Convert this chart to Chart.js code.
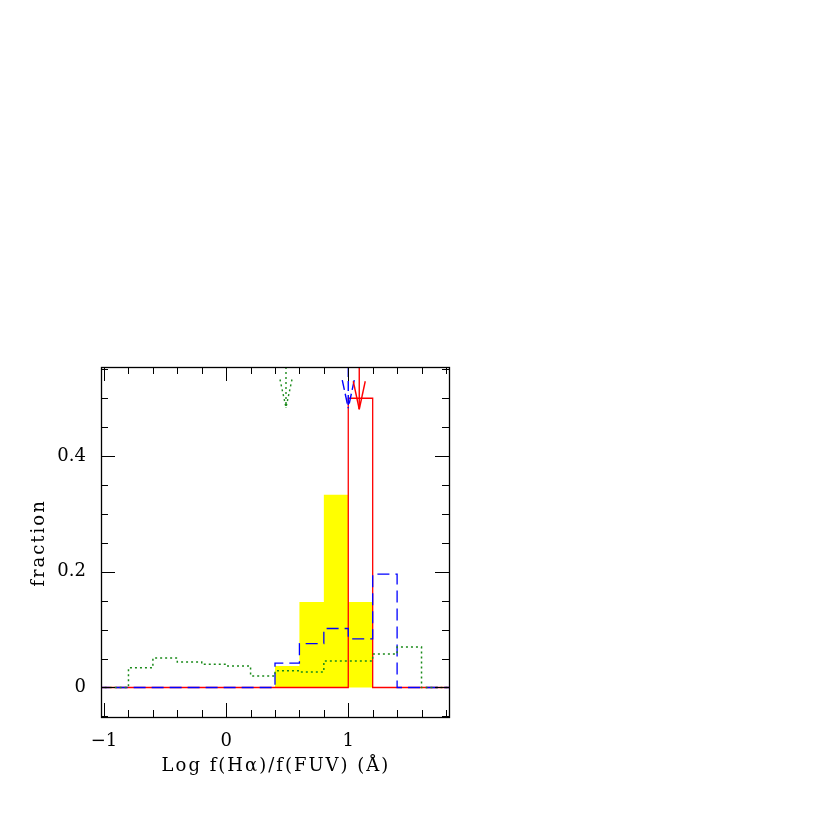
<!DOCTYPE html>
<html>
<head>
<meta charset="utf-8">
<script src="https://cdn.jsdelivr.net/npm/chart.js@4"></script>
<style>
  html, body { margin: 0; padding: 0; background: #fff; }
  #wrap { width: 817px; height: 817px; }
</style>
</head>
<body>
<div id="wrap"><canvas id="myChart"></canvas></div>
<script>
// bin left edges (width 0.2)
let binLeft = [-1.0, -0.8, -0.6, -0.4, -0.2, 0.0, 0.2, 0.4, 0.6, 0.8, 1.0, 1.2, 1.4, 1.6];
let yellowVals = [0, 0, 0, 0, 0, 0, 0, 0.037, 0.148, 0.333, 0.148, 0, 0, 0];
let redVals    = [0, 0, 0, 0, 0, 0, 0, 0, 0, 0, 0.5, 0, 0, 0];
let blueVals   = [0, 0, 0, 0, 0, 0, 0, 0.042, 0.076, 0.102, 0.084, 0.196, 0, 0];
let greenVals  = [0, 0.034, 0.051, 0.044, 0.040, 0.037, 0.020, 0.029, 0.027, 0.046, 0.046, 0.058, 0.070, 0];

// arrows (mean values)
let arrowX     = [0.49, 1.0, 1.09];
let arrowTip   = [0.484, 0.483, 0.481];
let arrowColor = ['#1a8a1a', '#0000ff', '#ff0000'];
let arrowDash  = [[2, 3], [10, 4], []];

let xTicks = [-1, 0, 1];
let yTicks = [0, 0.2, 0.4];

let xTitle = 'Log f(H\u03b1)/f(FUV) (\u00c5)';
let yTitle = 'fraction';

function histo(vals) {
    let pts = [{x: -1.2, y: 0}];
    for (let i = 0; i < binLeft.length; i++) {
        pts.push({x: binLeft[i], y: vals[i]});
    }
    pts.push({x: 1.8, y: 0});
    pts.push({x: 2.0, y: 0});
    return pts;
}

// marco y ticks por dentro, en los 4 lados
const framePlugin = {
    id: 'frame',
    afterDatasetsDraw(chart) {
        const ctx = chart.ctx;
        const a = chart.chartArea;
        const xs = chart.scales.x, ys = chart.scales.y;
        ctx.save();

        // flechas
        for (let i = 0; i < arrowX.length; i++) {
            let px = xs.getPixelForValue(arrowX[i]);
            let py = ys.getPixelForValue(arrowTip[i]);
            ctx.strokeStyle = arrowColor[i];
            ctx.lineWidth = 1.4;
            ctx.setLineDash(arrowDash[i]);
            ctx.beginPath();
            ctx.moveTo(px, a.top);
            ctx.lineTo(px, py);
            ctx.stroke();
            ctx.beginPath();
            ctx.moveTo(px - 6, py - 28);
            ctx.lineTo(px, py);
            ctx.stroke();
            ctx.beginPath();
            ctx.moveTo(px + 6, py - 28);
            ctx.lineTo(px, py);
            ctx.stroke();
        }
        ctx.setLineDash([]);

        ctx.strokeStyle = '#000';
        ctx.lineWidth = 1.3;
        ctx.strokeRect(a.left + 0.5, a.top + 0.5, a.right - a.left, a.bottom - a.top);

        ctx.lineWidth = 1;
        ctx.beginPath();
        for (let k = -5; k <= 9; k++) {
            let v = k * 0.2;
            if (v < xs.min || v > xs.max) continue;
            let len = (k % 5 === 0) ? 14 : 7;
            let p = Math.round(xs.getPixelForValue(v)) + 0.5;
            ctx.moveTo(p, a.bottom); ctx.lineTo(p, a.bottom - len);
            ctx.moveTo(p, a.top); ctx.lineTo(p, a.top + len);
        }
        for (let k = -1; k <= 11; k++) {
            let v = k * 0.05;
            if (v < ys.min || v > ys.max) continue;
            let len = (k % 4 === 0) ? 14 : 7;
            let p = Math.round(ys.getPixelForValue(v)) + 0.5;
            ctx.moveTo(a.left, p); ctx.lineTo(a.left + len, p);
            ctx.moveTo(a.right, p); ctx.lineTo(a.right - len, p);
        }
        ctx.stroke();

        // titulos de ejes (con algo de espaciado entre letras)
        ctx.fillStyle = '#000';
        ctx.font = '18px "DejaVu Serif"';
        ctx.letterSpacing = '2px';
        ctx.textAlign = 'center';
        ctx.textBaseline = 'alphabetic';
        ctx.fillText(xTitle, (a.left + a.right) / 2 + 1, 771);
        ctx.translate(44, (a.top + a.bottom) / 2 + 1);
        ctx.rotate(-Math.PI / 2);
        ctx.fillText(yTitle, 0, 0);
        ctx.restore();
    }
};

const font = {family: 'DejaVu Serif', size: 18};

const ctx = document.getElementById('myChart').getContext('2d');
const myChart = new Chart(ctx, {
    type: 'line',
    data: {
        datasets: [
            {
                data: histo(greenVals),
                borderColor: '#1a8a1a',
                borderWidth: 1.5,
                borderDash: [2, 3],
                stepped: 'before',
                pointRadius: 0,
                fill: false,
                order: 1
            },
            {
                data: histo(blueVals),
                borderColor: '#0000ff',
                borderWidth: 1.3,
                borderDash: [12, 6],
                stepped: 'before',
                pointRadius: 0,
                fill: false,
                order: 2
            },
            {
                data: histo(redVals),
                borderColor: '#ff0000',
                borderWidth: 1.3,
                stepped: 'before',
                pointRadius: 0,
                fill: false,
                order: 3
            },
            {
                data: histo(yellowVals),
                borderColor: 'rgba(0,0,0,0)',
                borderWidth: 0,
                backgroundColor: '#ffff00',
                stepped: 'before',
                pointRadius: 0,
                fill: 'origin',
                order: 4
            }
        ]
    },
    options: {
        responsive: true,
        maintainAspectRatio: false,
        animation: false,
        layout: {padding: {left: 0, top: 367, right: 368, bottom: 0}},
        plugins: {legend: {display: false}, tooltip: {enabled: false}},
        scales: {
            x: {
                type: 'linear',
                min: -1.025,
                max: 1.825,
                grid: {display: false},
                border: {display: false},
                afterFit: s => { s.height = 100; },
                afterBuildTicks: s => { s.ticks = xTicks.map(v => ({value: v})); },
                ticks: {
                    color: '#000',
                    font: font,
                    padding: 6,
                    maxRotation: 0,
                    callback: v => (v < 0 ? '\u2212' + Math.abs(v) : String(v))
                }
            },
            y: {
                min: -0.051,
                max: 0.554,
                grid: {display: false},
                border: {display: false},
                afterFit: s => { s.width = 101; },
                afterBuildTicks: s => { s.ticks = yTicks.map(v => ({value: v})); },
                ticks: {
                    color: '#000',
                    font: font,
                    padding: 7,
                    callback: v => String(v)
                }
            }
        }
    },
    plugins: [framePlugin]
});
</script>
</body>
</html>
